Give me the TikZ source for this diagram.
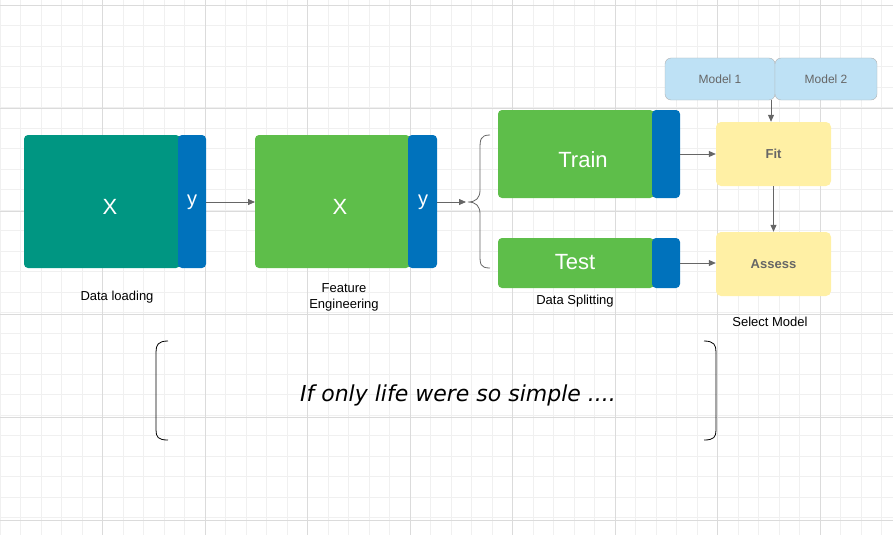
\documentclass[tikz,border=0pt]{standalone}
\usepackage{fontspec}
\setmainfont{Liberation Sans}
\newfontfamily\handfont{DejaVu Sans}
\usetikzlibrary{arrows.meta}
\definecolor{loadcol}{RGB}{0,150,130}
\definecolor{ybox}{RGB}{0,114,188}
\definecolor{greenbox}{RGB}{94,190,74}
\definecolor{yellowbox}{RGB}{255,240,165}
\definecolor{modelbox}{RGB}{190,225,245}
\tikzset{
  blk/.style={rounded corners=4pt, draw=none, text=white, font=\fontsize{22}{26}\selectfont},
  ycol/.style={blk, fill=ybox, font=\fontsize{20}{24}\selectfont},
  stage/.style={rounded corners=5pt, fill=yellowbox, text=black!60, font=\bfseries\fontsize{13}{15}\selectfont},
  mdl/.style={rounded corners=6pt, fill=modelbox, draw=black!30, text=black!60, font=\fontsize{12}{14}\selectfont},
  lbl/.style={font=\fontsize{13}{16}\selectfont, align=center},
  flow/.style={-{Triangle[length=7pt,width=6pt]}, draw=black!60, thick}
}
\begin{document}
\begin{tikzpicture}[x=1pt,y=-1pt]
\useasboundingbox (0,0) rectangle (893,535);
%grid
\foreach \i in {0,...,44} \draw[black!6] (\i*20.5,0) -- (\i*20.5,535);
\foreach \i in {0,...,26} \draw[black!6] (0,5+\i*20.5) -- (893,5+\i*20.5);
\foreach \i in {1,...,8} \draw[black!14] (\i*102.5,0) -- (\i*102.5,535);
\foreach \i in {0,...,5} \draw[black!14] (0,5+\i*103) -- (893,5+\i*103);

% Data loading
\path[blk, fill=loadcol] (24,135) rectangle (180,268);
\node[blk] (x1) at (110,207) {X};
\path[blk, fill=ybox] (178,135) rectangle (206,268);
\node[ycol, fill=none] (y1) at (192,202) {y};
\coordinate (y1e) at (206,202);
% Feature engineering
\path[blk, fill=greenbox] (255,135) rectangle (410,268);
\node[blk] (x2) at (340,207) {X};
\path[blk, fill=ybox] (408,135) rectangle (437,268);
\node[ycol, fill=none] (y2) at (423,202) {y};
\coordinate (x2w) at (255,202);
\coordinate (y2e) at (437,202);
\coordinate (br) at (466,202);
\draw[flow] (y1e) -- (x2w);
\draw[flow] (y2e) -- (br);
\draw[black!60, thick] (490,135) .. controls (480,135) and (480,140) .. (480,150) -- (480,190) .. controls (480,198) and (476,202) .. (468,202) .. controls (476,202) and (480,206) .. (480,214) -- (480,254) .. controls (480,264) and (480,268) .. (490,268);
% Data splitting
\path[blk, fill=greenbox] (498,110) rectangle (654,198);
\node[blk] (train) at (583,160) {Train};
\path[blk, fill=ybox] (652,110) rectangle (680,198);
\path[blk, fill=greenbox] (498,238) rectangle (654,288);
\node[blk] (test) at (575,262) {Test};
\path[blk, fill=ybox] (652,238) rectangle (680,288);
\coordinate (trE) at (680,154);
\coordinate (teE) at (680,263);
% Select model
\node[stage, minimum width=115pt, minimum height=64pt] (fit) at (773.5,154) {Fit};
\node[stage, minimum width=115pt, minimum height=64pt] (assess) at (773.5,264) {Assess};
\node[mdl, minimum width=110pt, minimum height=42pt] (m1) at (720,79) {Model 1};
\node[mdl, minimum width=102pt, minimum height=42pt] (m2) at (826,79) {Model 2};
\coordinate (mj) at (771,100);
\draw[flow] (trE) -- (fit.west |- trE);
\draw[flow] (teE) -- (assess.west |- teE);
\draw[flow] (fit) -- (assess);
\draw[flow] (mj) -- (mj |- fit.north);
% labels
\node[lbl] (l1) at (117,297) {Data loading};
\node[lbl] (l2) at (344,297) {Feature\\Engineering};
\node[lbl] (l3) at (575,301) {Data Splitting};
\node[lbl] (l4) at (770,322) {Select Model};
% note
\draw[black, thick] (168,341) .. controls (158,341) and (156,345) .. (156,352) -- (156,430) .. controls (156,437) and (158,440) .. (168,440);
\draw[black, thick] (704,341) .. controls (714,341) and (716,345) .. (716,352) -- (716,430) .. controls (716,437) and (714,440) .. (704,440);
\node[font=\handfont\itshape\fontsize{22}{26}\selectfont] (note) at (458,395) {If only life were so simple ....};
\end{tikzpicture}
\end{document}
